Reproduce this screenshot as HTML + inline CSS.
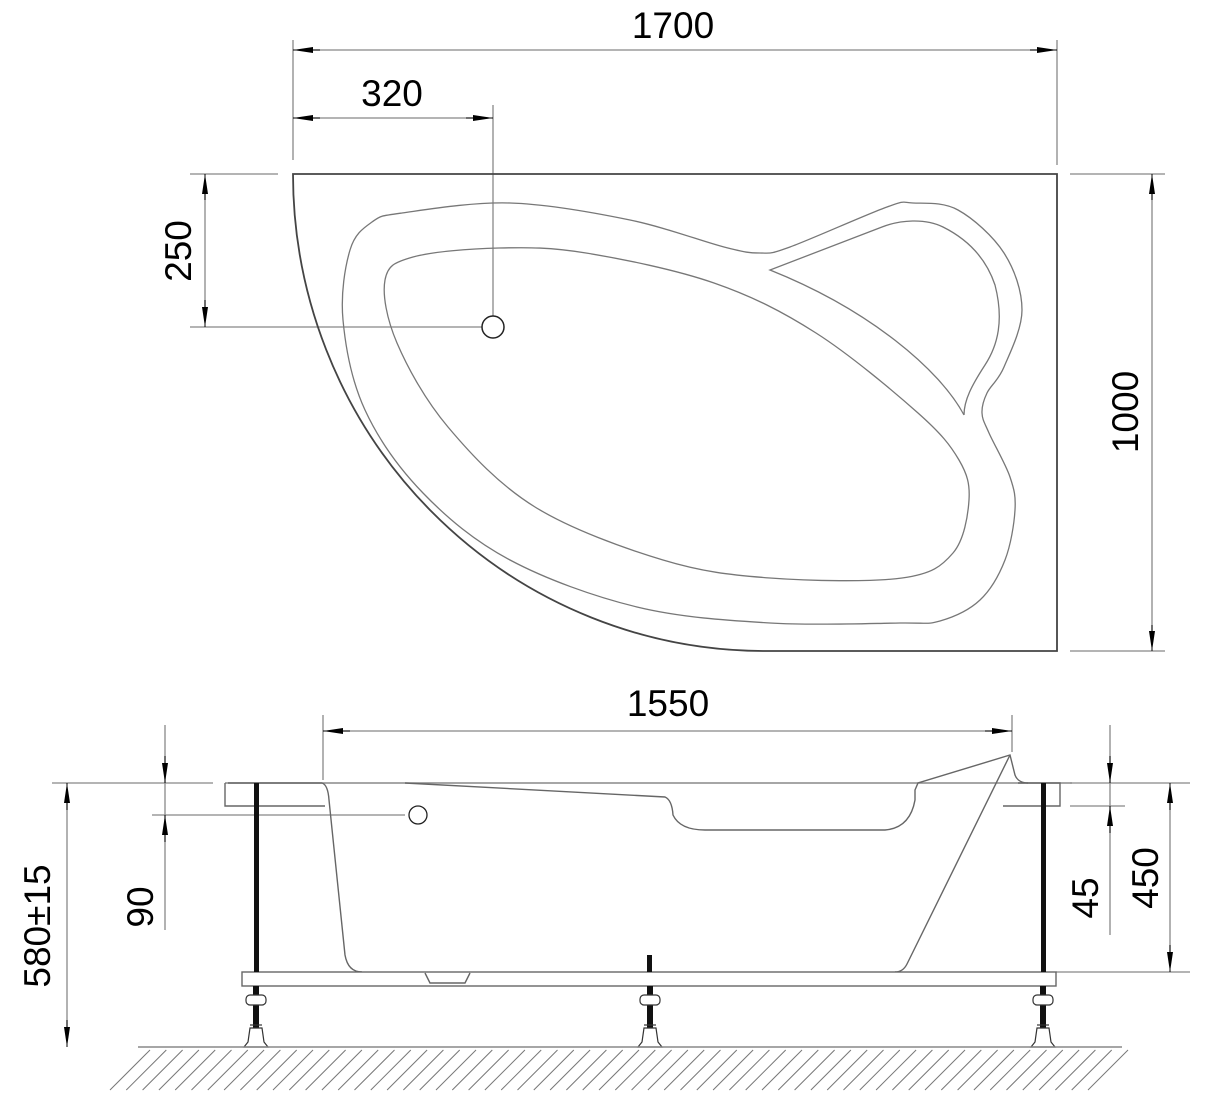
<!DOCTYPE html>
<html><head><meta charset="utf-8"><style>
html,body{margin:0;padding:0;background:#fff}
svg{display:block}
text{font-family:"Liberation Sans",sans-serif;fill:#000}
</style></head><body>
<svg id="s" width="1211" height="1107" viewBox="0 0 1211 1107" xmlns="http://www.w3.org/2000/svg">
<defs>
<marker id="a" viewBox="0 0 20 8" refX="20" refY="4" markerWidth="20" markerHeight="8" markerUnits="userSpaceOnUse" orient="auto"><path d="M0,1 L20,4 L0,7 Z" fill="#000"/></marker>
</defs>
<g stroke="#888" stroke-width="1.3" fill="none">
<line x1="293" y1="40" x2="293" y2="160"/>
<line x1="1057" y1="40" x2="1057" y2="165"/>
<line x1="300" y1="50" x2="1050" y2="50"/>
<line x1="300" y1="118" x2="488" y2="118"/>
<line x1="493" y1="105" x2="493" y2="316"/>
<line x1="190" y1="174" x2="278" y2="174"/>
<line x1="190" y1="327" x2="482" y2="327"/>
<line x1="205" y1="180" x2="205" y2="321"/>
<line x1="1070" y1="174" x2="1165" y2="174"/>
<line x1="1070" y1="651" x2="1165" y2="651"/>
<line x1="1152" y1="180" x2="1152" y2="645"/>
<line x1="323" y1="715" x2="323" y2="780"/>
<line x1="1012" y1="715" x2="1012" y2="752"/>
<line x1="330" y1="731" x2="1005" y2="731"/>
<line x1="52" y1="783" x2="213" y2="783"/>
<line x1="152" y1="815" x2="405" y2="815"/>
<line x1="165" y1="725" x2="165" y2="930"/>
<line x1="67" y1="790" x2="67" y2="1040"/>
<line x1="1070" y1="783" x2="1190" y2="783"/>
<line x1="1070" y1="806" x2="1125" y2="806"/>
<line x1="1110" y1="725" x2="1110" y2="935"/>
<line x1="1056" y1="972" x2="1190" y2="972"/>
<line x1="1170" y1="790" x2="1170" y2="965"/>
</g>
<g stroke="#000" stroke-width="1" fill="none">
<line x1="320" y1="50" x2="293" y2="50" marker-end="url(#a)"/>
<line x1="1030" y1="50" x2="1057" y2="50" marker-end="url(#a)"/>
<line x1="320" y1="118" x2="293" y2="118" marker-end="url(#a)"/>
<line x1="466" y1="118" x2="493" y2="118" marker-end="url(#a)"/>
<line x1="205" y1="200" x2="205" y2="174" marker-end="url(#a)"/>
<line x1="205" y1="300" x2="205" y2="327" marker-end="url(#a)"/>
<line x1="1152" y1="200" x2="1152" y2="174" marker-end="url(#a)"/>
<line x1="1152" y1="625" x2="1152" y2="651" marker-end="url(#a)"/>
<line x1="350" y1="731" x2="323" y2="731" marker-end="url(#a)"/>
<line x1="985" y1="731" x2="1012" y2="731" marker-end="url(#a)"/>
<line x1="165" y1="756" x2="165" y2="783" marker-end="url(#a)"/>
<line x1="165" y1="842" x2="165" y2="815" marker-end="url(#a)"/>
<line x1="67" y1="810" x2="67" y2="783" marker-end="url(#a)"/>
<line x1="67" y1="1020" x2="67" y2="1047" marker-end="url(#a)"/>
<line x1="1110" y1="756" x2="1110" y2="783" marker-end="url(#a)"/>
<line x1="1110" y1="833" x2="1110" y2="806" marker-end="url(#a)"/>
<line x1="1170" y1="810" x2="1170" y2="783" marker-end="url(#a)"/>
<line x1="1170" y1="945" x2="1170" y2="972" marker-end="url(#a)"/>
</g>
<path d="M293,174 L1057,174 L1057,651 L765,651 A472,477 0 0 1 293,174 Z" fill="none" stroke="#444" stroke-width="1.8"/>
<path id="p1" fill="none" stroke="#777" stroke-width="1.3"/>
<path id="p2" fill="none" stroke="#777" stroke-width="1.3"/>
<path id="p3" fill="none" stroke="#777" stroke-width="1.3"/>
<circle cx="493" cy="327" r="11" fill="#fff" stroke="#222" stroke-width="1.5"/>
<g fill="none" stroke="#666" stroke-width="1.4">
<line x1="225" y1="783" x2="1072" y2="783" stroke="#888"/>
<path d="M228,783 L322,783 Q328,785 329,800 L345,955 Q348,972 362,972"/>
<path d="M225,783 L225,806 L325,806"/>
<path d="M1018,783 L1060,783 L1060,806 L1003,806"/>
<path d="M405,783 L665,797 Q672,800 673,815 Q680,830 705,830 L885,830 Q910,828 915,800 L915,790 L918,783 L1010,755 L1015,775 Q1018,783 1028,783"/>
<path d="M1010,755 L907,964 Q903,972 895,972"/>
<rect x="242" y="972" width="814" height="14" fill="#fff"/>
<path d="M425,973 L430,983 L465,983 L470,973"/>
</g>
<circle cx="418" cy="815" r="9" fill="#fff" stroke="#222" stroke-width="1.3"/>
<g fill="#111">
<rect x="254" y="783" width="5" height="189"/>
<rect x="1041" y="783" width="5" height="189"/>
<rect x="647" y="955" width="5" height="17"/>
</g>
<g id="legs" fill="#fff" stroke="#333" stroke-width="1.2"></g>
<line x1="138" y1="1047" x2="1122" y2="1047" stroke="#888" stroke-width="1.5"/>
<g id="hatch" stroke="#777" stroke-width="1"></g>
<text x="673" y="38" font-size="37" text-anchor="middle">1700</text>
<text x="392" y="106" font-size="37" text-anchor="middle">320</text>
<text x="668" y="716" font-size="37" text-anchor="middle">1550</text>
<text transform="translate(191,251) rotate(-90)" font-size="37" text-anchor="middle">250</text>
<text transform="translate(1138,412) rotate(-90)" font-size="37" text-anchor="middle">1000</text>
<text transform="translate(50,926) rotate(-90)" font-size="37" text-anchor="middle">580±15</text>
<text transform="translate(153,907) rotate(-90)" font-size="37" text-anchor="middle">90</text>
<text transform="translate(1098,898) rotate(-90)" font-size="37" text-anchor="middle">45</text>
<text transform="translate(1158,878) rotate(-90)" font-size="37" text-anchor="middle">450</text>
</svg>
<script>
function cr(pts,closed){
  var n=pts.length,d="M"+pts[0][0]+","+pts[0][1];
  var m=closed?n:n-1;
  for(var i=0;i<m;i++){
    var p0=pts[(i-1+n)%n],p1=pts[i],p2=pts[(i+1)%n],p3=pts[(i+2)%n];
    if(!closed){if(i==0)p0=p1;if(i+2>=n)p3=p2;}
    var c1=[p1[0]+(p2[0]-p0[0])/6,p1[1]+(p2[1]-p0[1])/6];
    var c2=[p2[0]-(p3[0]-p1[0])/6,p2[1]-(p3[1]-p1[1])/6];
    d+=" C"+c1+" "+c2+" "+p2;
  }
  return d+(closed?"Z":"");
}
document.getElementById("p1").setAttribute("d",cr([[402,213],[510,203],[630,220],[724,247],[760,253],[790,247],[887,207],[913,203],[958,210],[1004,253],[1022,310],[1004,367],[987,393],[982,413],[989,433],[1010,477],[1015,510],[1005,560],[980,600],[940,621],[900,623],[770,623],[637,607],[510,560],[423,493],[365,410],[343,320],[350,250],[372,222]],true));
document.getElementById("p2").setAttribute("d",cr([[413,257],[499,248],[586,253],[714,283],[816,333],[918,413],[959,460],[969,500],[953,553],[902,578],[770,578],[663,560],[535,507],[448,427],[397,343],[385,280]],true));
document.getElementById("p3").setAttribute("d","M964,415 C940,370 870,310 770,270 L882,227 C900,220 925,218 943,227 C965,238 985,255 995,285 C1004,320 998,345 985,365 C972,385 964,400 964,415");
var h="";for(var x=150;x<1140;x+=16.3){h+='<line x1="'+x+'" y1="1050" x2="'+(x-40)+'" y2="1090"/>';}
document.getElementById("hatch").innerHTML=h;
var L="";[256,650,1043].forEach(function(c){
 L+='<rect x="'+(c-3)+'" y="986" width="6" height="44" fill="#111" stroke="none"/>'+
 '<rect x="'+(c-10)+'" y="995" width="20" height="10" rx="4"/>'+
 '<line x1="'+(c-6)+'" y1="1025" x2="'+(c+6)+'" y2="1025"/>'+
 '<path d="M'+(c-6)+',1028 L'+(c+6)+',1028 L'+(c+8)+',1042 L'+(c+12)+',1047 L'+(c-12)+',1047 L'+(c-8)+',1042 Z"/>';
});
document.getElementById("legs").innerHTML=L;
</script>
</body></html>
